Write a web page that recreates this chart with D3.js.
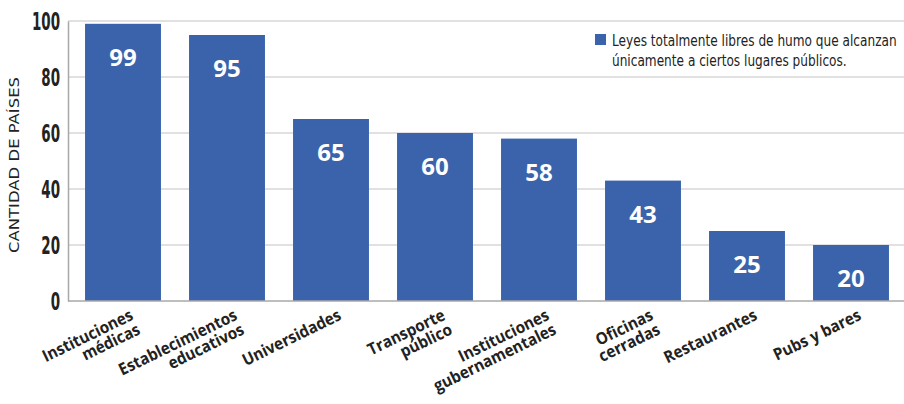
<!doctype html>
<html lang="es">
<head>
  <meta charset="utf-8">
  <script src="https://d3js.org/d3.v7.min.js"></script>
  <style>
    body { margin: 0; background: #fff; }
    svg { display: block; }
  </style>
</head>
<body>
  <svg id="chart"></svg>
  <script>
    // valores
    const categories = [
      ["Instituciones", "médicas"],
      ["Establecimientos", "educativos"],
      ["Universidades"],
      ["Transporte", "público"],
      ["Instituciones", "gubernamentales"],
      ["Oficinas", "cerradas"],
      ["Restaurantes"],
      ["Pubs y bares"]
    ];
    const values = [99, 95, 65, 60, 58, 43, 25, 20];
    const yTicks = [0, 20, 40, 60, 80, 100];
    const legendLines = ["Leyes totalmente libres de humo que alcanzan", "únicamente a ciertos lugares públicos."];
    const yTitle = "CANTIDAD DE PAÍSES";

    const width = 904, height = 404;
    const margin = {top: 21, right: 0, bottom: 103, left: 68};
    const barColor = "#3a63ac";
    const sans = "'DejaVu Sans', sans-serif";
    const squeeze = 0.56; // the original uses a condensed face

    const svg = d3.select("#chart")
      .attr("width", width)
      .attr("height", height);

    const x = d3.scaleBand()
      .domain(d3.range(values.length))
      .range([margin.left + 3, width - 1])
      .paddingInner(0.27)
      .paddingOuter(0.135);

    const y = d3.scaleLinear()
      .domain([0, 100])
      .range([height - margin.bottom, margin.top]);

    // gridlines
    svg.append("g")
      .selectAll("line")
      .data(yTicks.slice(1))
      .join("line")
        .attr("x1", margin.left)
        .attr("x2", width)
        .attr("y1", d => y(d))
        .attr("y2", d => y(d))
        .attr("stroke", "#c4c4c4")
        .attr("stroke-width", 1.2);

    // bars
    svg.append("g")
      .attr("fill", barColor)
      .selectAll("rect")
      .data(values)
      .join("rect")
        .attr("x", (d, i) => x(i))
        .attr("width", x.bandwidth())
        .attr("y", d => y(d))
        .attr("height", d => y(0) - y(d));

    // value labels
    svg.append("g")
      .selectAll("text")
      .data(values)
      .join("text")
        .attr("x", (d, i) => x(i) + x.bandwidth() / 2)
        .attr("y", d => y(d) + 42)
        .attr("text-anchor", "middle")
        .attr("fill", "#fff")
        .attr("font-family", "'Open Sans', 'Noto Sans', sans-serif")
        .attr("font-weight", "bold")
        .attr("font-size", 24)
        .text(d => d);

    // axes
    const yAxis = svg.append("g")
      .attr("transform", `translate(${margin.left},0)`)
      .call(d3.axisLeft(y).tickValues(yTicks).tickSize(0).tickPadding(8));
    yAxis.select(".domain").attr("stroke", "#a8a8a8").attr("stroke-width", 1.5);
    yAxis.selectAll("text")
      .attr("font-family", sans)
      .attr("font-weight", "bold")
      .attr("font-size", 24)
      .attr("fill", "#222")
      .attr("x", -8 / squeeze)
      .attr("dy", "0.36em")
      .attr("transform", `scale(${squeeze},1)`);

    svg.append("line")
      .attr("x1", margin.left)
      .attr("x2", width)
      .attr("y1", y(0))
      .attr("y2", y(0))
      .attr("stroke", "#a8a8a8")
      .attr("stroke-width", 1.5);

    // y title
    svg.append("text")
      .attr("transform", `translate(19,${(y(0) + y(100)) / 2 + 4}) rotate(-90)`)
      .attr("text-anchor", "middle")
      .attr("font-family", sans)
      .attr("font-size", 14)
      .attr("textLength", 176)
      .attr("lengthAdjust", "spacingAndGlyphs")
      .attr("fill", "#222")
      .text(yTitle);

    // category labels
    const xl = svg.append("g")
      .selectAll("text")
      .data(categories)
      .join("text")
        .attr("transform", (d, i) => `translate(${x(i) + x.bandwidth() / 2 + 7},${y(0) + 9}) rotate(-26) scale(0.92,1)`)
        .attr("text-anchor", "end")
        .attr("font-family", "'Open Sans', 'Noto Sans', sans-serif")
        .attr("font-weight", "bold")
        .attr("font-size", 16.5)
        .attr("fill", "#222");
    xl.selectAll("tspan")
      .data(d => d)
      .join("tspan")
        .attr("x", 0)
        .attr("y", (d, i) => 10 + i * 16)
        .text(d => d);

    // legend
    const legend = svg.append("g").attr("transform", "translate(595,34)");
    legend.append("rect")
      .attr("width", 11)
      .attr("height", 11)
      .attr("fill", barColor);
    const legendText = legend.append("g").attr("transform", "translate(17,0)");
    legendText.selectAll("text")
      .data(legendLines)
      .join("text")
        .attr("y", (d, i) => 12 + i * 20)
        .attr("font-family", sans)
        .attr("font-size", 16.5)
        .attr("fill", "#222")
        .text(d => d);
    // squeeze the two lines so the first one ends at the chart edge
    const natural = legendText.select("text").node().getComputedTextLength();
    legendText.attr("transform", `translate(17,0) scale(${285 / natural},1)`);
  </script>
</body>
</html>
